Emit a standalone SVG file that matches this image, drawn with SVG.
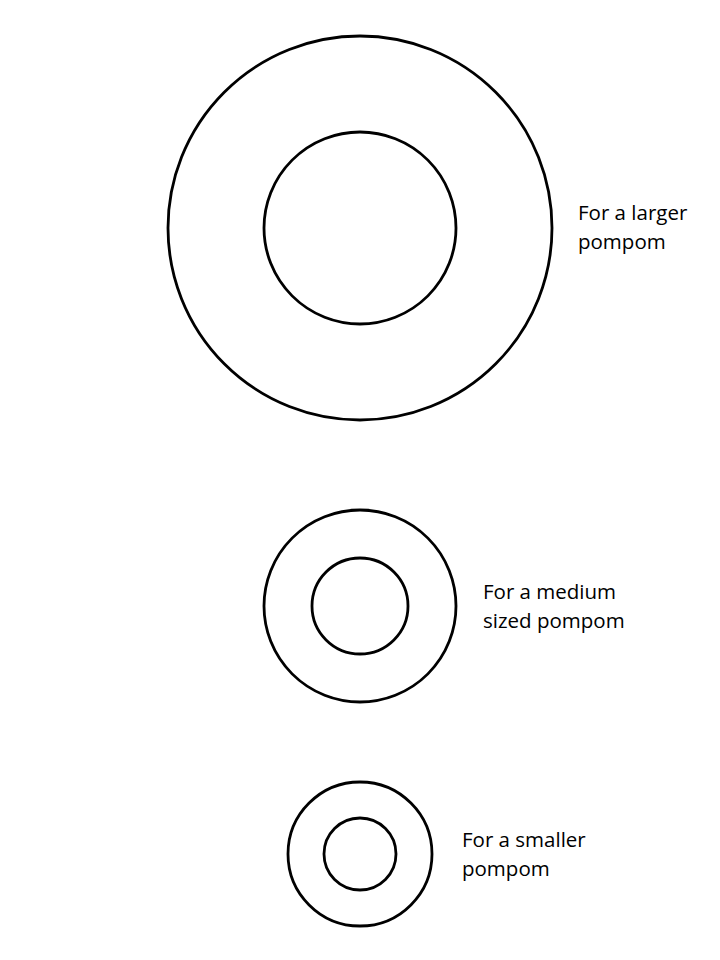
<svg xmlns="http://www.w3.org/2000/svg" width="720" height="960" viewBox="0 0 720 960">
<style>
.ring{fill:none;stroke:#000;stroke-width:2.8}
.lbl{font-family:"Open Sans","Noto Sans","Liberation Sans",sans-serif;font-size:20.5px;fill:#000}
</style>
<rect width="720" height="960" fill="#fff"/>
<g id="large">
<circle class="ring" cx="360" cy="228" r="192"/>
<circle class="ring" cx="360" cy="228" r="96"/>
<text class="lbl" x="578" y="220">For a larger</text>
<text class="lbl" x="578" y="249">pompom</text>
</g>
<g id="medium">
<circle class="ring" cx="360" cy="606" r="96"/>
<circle class="ring" cx="360" cy="606" r="48"/>
<text class="lbl" x="483" y="599">For a medium</text>
<text class="lbl" x="483" y="628">sized pompom</text>
</g>
<g id="small">
<circle class="ring" cx="360" cy="854" r="72"/>
<circle class="ring" cx="360" cy="854" r="36"/>
<text class="lbl" x="462" y="847">For a smaller</text>
<text class="lbl" x="462" y="876">pompom</text>
</g>
<g id="connectors"></g>
</svg>
